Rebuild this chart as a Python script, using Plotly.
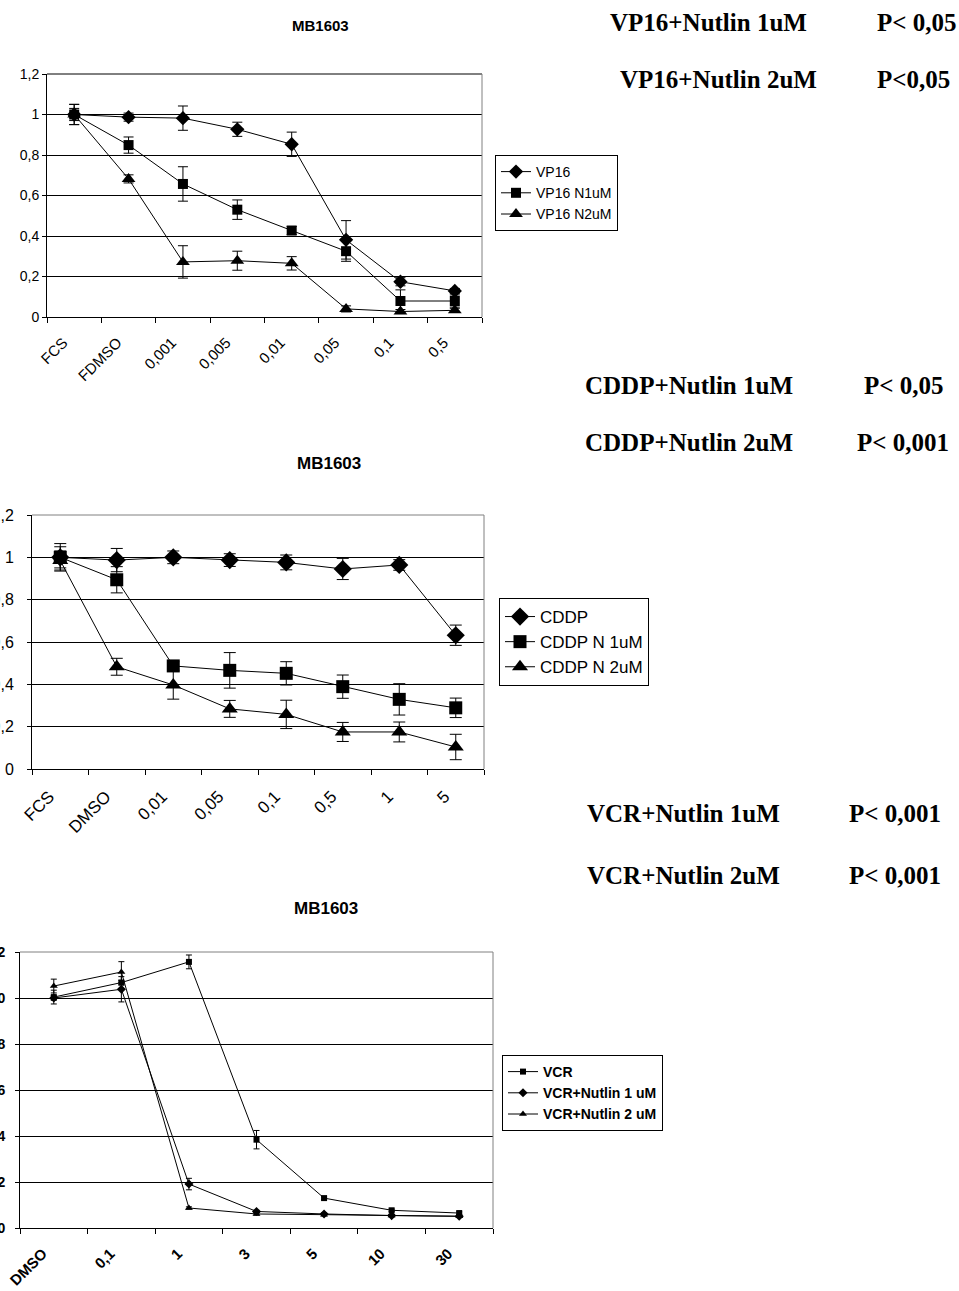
import plotly.graph_objects as go

W, H = 959, 1291

# ---------------- data ----------------
vp16_categories = ["FCS", "FDMSO", "0,001", "0,005", "0,01", "0,05", "0,1", "0,5"]
vp16 = [1.0, 0.987, 0.982, 0.927, 0.853, 0.381, 0.174, 0.129]
vp16_err = [0.05, 0.02, 0.06, 0.035, 0.06, 0.095, 0.02, 0.012]
vp16_n1 = [1.0, 0.849, 0.657, 0.53, 0.427, 0.325, 0.079, 0.079]
vp16_n1_err = [0.05, 0.04, 0.085, 0.048, 0.02, 0.05, 0.055, 0.03]
vp16_n2 = [1.0, 0.682, 0.272, 0.278, 0.265, 0.04, 0.027, 0.033]
vp16_n2_err = [0.03, 0.02, 0.08, 0.047, 0.033, 0.015, 0.01, 0.01]

cddp_categories = ["FCS", "DMSO", "0,01", "0,05", "0,1", "0,5", "1", "5"]
cddp = [1.0, 0.987, 1.0, 0.987, 0.976, 0.945, 0.964, 0.632]
cddp_err = [0.05, 0.055, 0.03, 0.03, 0.035, 0.05, 0.025, 0.048]
cddp_n1 = [1.0, 0.894, 0.487, 0.466, 0.452, 0.389, 0.329, 0.289]
cddp_n1_err = [0.065, 0.062, 0.02, 0.084, 0.055, 0.055, 0.074, 0.046]
cddp_n2 = [0.985, 0.483, 0.397, 0.284, 0.258, 0.175, 0.175, 0.104]
cddp_n2_err = [0.045, 0.04, 0.067, 0.04, 0.067, 0.045, 0.047, 0.06]

vcr_categories = ["DMSO", "0,1", "1", "3", "5", "10", "30"]
vcr = [1.004, 1.067, 1.157, 0.384, 0.130, 0.077, 0.065]
vcr_err = [0.03, 0.01, 0.03, 0.04, 0.005, 0.005, 0.005]
vcr_n1 = [1.0, 1.038, 0.191, 0.072, 0.061, 0.054, 0.051]
vcr_n1_err = [0.01, 0.055, 0.025, 0.005, 0.005, 0.005, 0.005]
vcr_n2 = [1.052, 1.113, 0.087, 0.061, 0.058, 0.054, 0.051]
vcr_n2_err = [0.03, 0.045, 0.005, 0.005, 0.005, 0.005, 0.005]

y_tickvals = [0, 0.2, 0.4, 0.6, 0.8, 1.0, 1.2]
y_ticktext_12 = ["0", "0,2", "0,4", "0,6", "0,8", "1", "1,2"]
y_ticktext_3 = ["0,0", "0,2", "0,4", "0,6", "0,8", "1,0", "1,2"]

stats_left = ["VP16+Nutlin 1uM", "VP16+Nutlin 2uM", "CDDP+Nutlin 1uM",
              "CDDP+Nutlin 2uM", "VCR+Nutlin 1uM", "VCR+Nutlin 2uM"]
stats_right = ["P< 0,05", "P<0,05", "P< 0,05", "P< 0,001", "P< 0,001", "P< 0,001"]

# ---------------- helpers ----------------
def px(x):
    return x / W

def py(y):
    return 1 - y / H

fig = go.Figure()

def add_series(xs, ys, errs, name, symbol, size, xa, ya, legend, ew, lw=1):
    fig.add_trace(go.Scatter(
        x=xs, y=ys, name=name, mode="lines+markers",
        line=dict(color="black", width=lw),
        marker=dict(symbol=symbol, size=size, color="black"),
        error_y=dict(type="data", array=errs, visible=True, color="black",
                     thickness=1, width=ew),
        xaxis=xa, yaxis=ya, legend=legend,
    ))

# chart 1
add_series(vp16_categories, vp16, vp16_err, "VP16", "diamond", 11, "x", "y", "legend", 5)
add_series(vp16_categories, vp16_n1, vp16_n1_err, "VP16 N1uM", "square", 10, "x", "y", "legend", 5)
add_series(vp16_categories, vp16_n2, vp16_n2_err, "VP16 N2uM", "triangle-up", 12, "x", "y", "legend", 5)
# chart 2
add_series(cddp_categories, cddp, cddp_err, "CDDP", "diamond", 14, "x2", "y2", "legend2", 6)
add_series(cddp_categories, cddp_n1, cddp_n1_err, "CDDP N 1uM", "square", 13, "x2", "y2", "legend2", 6)
add_series(cddp_categories, cddp_n2, cddp_n2_err, "CDDP N 2uM", "triangle-up", 14, "x2", "y2", "legend2", 6)
# chart 3
add_series(vcr_categories, vcr, vcr_err, "VCR", "square", 6, "x3", "y3", "legend3", 3)
add_series(vcr_categories, vcr_n1, vcr_n1_err, "VCR+Nutlin 1 uM", "diamond", 7, "x3", "y3", "legend3", 3)
add_series(vcr_categories, vcr_n2, vcr_n2_err, "VCR+Nutlin 2 uM", "triangle-up", 7, "x3", "y3", "legend3", 3)

sans = "Arial, Liberation Sans, sans-serif"

def xaxis_cfg(cats, x0, x1, yanchor, fsize, bold):
    return dict(
        type="category", categoryorder="array", categoryarray=cats,
        range=[-0.5, len(cats) - 0.5], domain=[px(x0), px(x1)],
        anchor=yanchor, tickson="boundaries", ticks="outside", ticklen=5,
        tickcolor="black", showline=True, linecolor="black", linewidth=1,
        showgrid=False, tickangle=-45, zeroline=False, automargin=False,
        ticklabelshift=-11, ticklabelstandoff=10,
        tickfont=dict(family=sans, size=fsize, color="black",
                      weight="bold" if bold else "normal"),
    )

def yaxis_cfg(y0, y1, xanchor, ticktext, fsize, bold, standoff):
    return dict(
        range=[0, 1.2], domain=[py(y1), py(y0)], anchor=xanchor,
        tickvals=y_tickvals, ticktext=ticktext, ticks="outside", ticklen=4,
        tickcolor="black", showline=True, linecolor="black", linewidth=1,
        showgrid=True, gridcolor="black", gridwidth=1, zeroline=False,
        automargin=False, ticklabelstandoff=standoff,
        tickfont=dict(family=sans, size=fsize, color="black",
                      weight="bold" if bold else "normal"),
    )

fig.update_layout(
    width=W, height=H, margin=dict(l=0, r=0, t=0, b=0, autoexpand=False),
    paper_bgcolor="white", plot_bgcolor="white",
    xaxis=xaxis_cfg(vp16_categories, 47, 482, "y", 15, False),
    yaxis=yaxis_cfg(74, 317, "x", y_ticktext_12, 14, False, 0),
    xaxis2=xaxis_cfg(cddp_categories, 32, 484, "y2", 17, False),
    yaxis2=yaxis_cfg(515, 769, "x2", y_ticktext_12, 16, False, 10),
    xaxis3=xaxis_cfg(vcr_categories, 20, 493, "y3", 15, True),
    yaxis3=yaxis_cfg(952, 1228, "x3", y_ticktext_3, 14, True, 7),
    showlegend=True,
    legend=dict(x=px(495), y=py(155), xanchor="left", yanchor="top",
                bordercolor="black", borderwidth=1, bgcolor="white",
                font=dict(family=sans, size=14, color="black"),
                itemwidth=30, tracegroupgap=0),
    legend2=dict(x=px(499), y=py(598), xanchor="left", yanchor="top",
                 bordercolor="black", borderwidth=1, bgcolor="white",
                 font=dict(family=sans, size=17, color="black"),
                 itemwidth=30),
    legend3=dict(x=px(502), y=py(1055), xanchor="left", yanchor="top",
                 bordercolor="black", borderwidth=1, bgcolor="white",
                 font=dict(family=sans, size=14, color="black", weight="bold"),
                 itemwidth=30),
)

# plot-area borders (top & right)
for xa, ya, topc in [("x", "y", "black"), ("x2", "y2", "#808080"), ("x3", "y3", "#808080")]:
    fig.add_shape(type="line", xref=f"{xa} domain", yref=f"{ya} domain",
                  x0=0, x1=1, y0=1, y1=1, line=dict(color=topc, width=1))
    fig.add_shape(type="line", xref=f"{xa} domain", yref=f"{ya} domain",
                  x0=1, x1=1, y0=0, y1=1, line=dict(color="#808080", width=1))

# chart titles
for xc, yc, fs in [(320, 25, 15), (329, 464, 17), (326, 908, 17)]:
    fig.add_annotation(text="MB1603", x=px(xc), y=py(yc), xref="paper", yref="paper",
                       showarrow=False, xanchor="center", yanchor="middle",
                       font=dict(family=sans, size=fs, color="black", weight="bold"))

# statistics text
serif = "Times New Roman, Liberation Serif, serif"
left_pos = [(608, 22), (618, 80), (583, 385), (583, 442), (585, 813), (585, 875)]
right_pos = [(875, 22), (875, 80), (862, 385), (855, 442), (847, 813), (847, 875)]
for txt, (x, y) in zip(stats_left, left_pos):
    fig.add_annotation(text=txt, x=px(x), y=py(y), xref="paper", yref="paper",
                       showarrow=False, xanchor="left", yanchor="middle",
                       font=dict(family=serif, size=25, color="black", weight="bold"))
for txt, (x, y) in zip(stats_right, right_pos):
    fig.add_annotation(text=txt, x=px(x), y=py(y), xref="paper", yref="paper",
                       showarrow=False, xanchor="left", yanchor="middle",
                       font=dict(family=serif, size=25, color="black", weight="bold"))

fig.write_html("out.html", config={"displayModeBar": False},
               post_script="document.body.style.margin='0';")
